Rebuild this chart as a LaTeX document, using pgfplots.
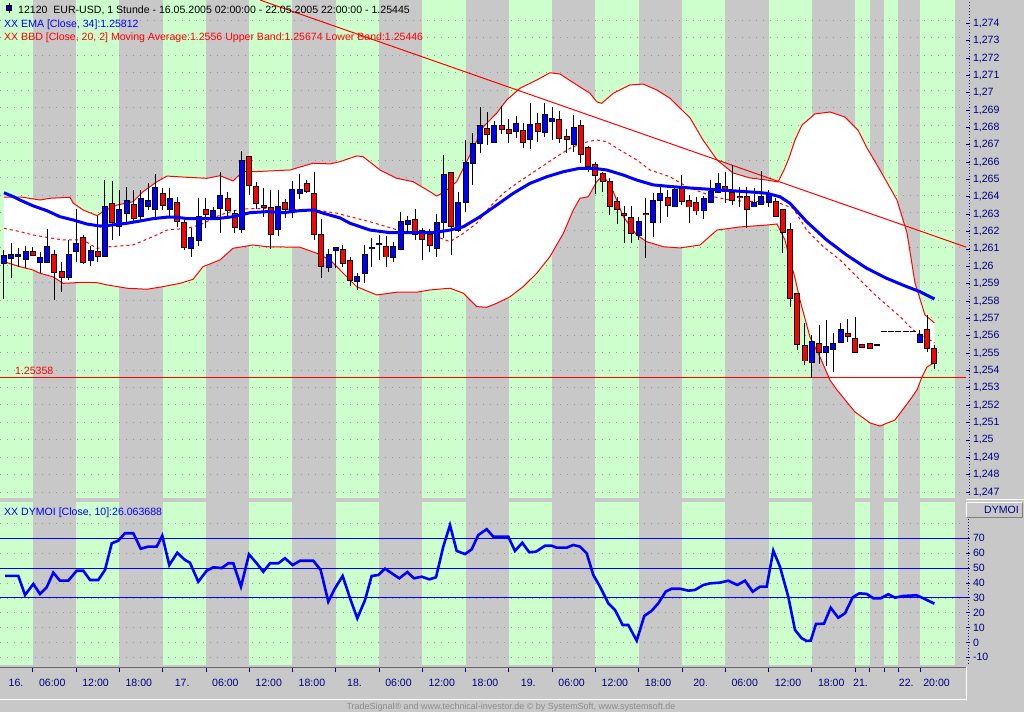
\documentclass[border=0pt]{standalone}
\usepackage{pgfplots}
\pgfplotsset{compat=1.18}
\usepackage{pgfplotstable}
\usepackage{fontspec}
\setmainfont{Liberation Sans}
\definecolor{bggray}{RGB}{200,200,200}
\definecolor{stripe}{RGB}{204,255,204}
\definecolor{navy}{RGB}{0,0,128}
\definecolor{griddot}{RGB}{150,150,150}
\definecolor{footgray}{RGB}{140,140,140}
\newcommand{\fs}{\fontsize{10.6}{12}\selectfont}
\newcommand{\greenstripes}[2]{%
\fill[stripe] (axis cs:-0.548,#1) rectangle (axis cs:4,#2);
\fill[stripe] (axis cs:10,#1) rectangle (axis cs:16,#2);
\fill[stripe] (axis cs:22,#1) rectangle (axis cs:28,#2);
\fill[stripe] (axis cs:34,#1) rectangle (axis cs:40,#2);
\fill[stripe] (axis cs:46,#1) rectangle (axis cs:52,#2);
\fill[stripe] (axis cs:58,#1) rectangle (axis cs:64,#2);
\fill[stripe] (axis cs:70,#1) rectangle (axis cs:76,#2);
\fill[stripe] (axis cs:82,#1) rectangle (axis cs:88,#2);
\fill[stripe] (axis cs:94,#1) rectangle (axis cs:100,#2);
\fill[stripe] (axis cs:106,#1) rectangle (axis cs:112,#2);
\fill[stripe] (axis cs:118,#1) rectangle (axis cs:120,#2);
\fill[stripe] (axis cs:122,#1) rectangle (axis cs:124,#2);
\fill[stripe] (axis cs:127,#1) rectangle (axis cs:131.85,#2);}

\pgfplotstableread{
i O H L C
0 1.26021 1.26094 1.25812 1.26060
1 1.26046 1.26133 1.25935 1.26065
2 1.26057 1.26104 1.25998 1.26064
3 1.26041 1.26117 1.25989 1.26081
4 1.26081 1.26113 1.26060 1.26067
5 1.26027 1.26084 1.25960 1.26046
6 1.26025 1.26213 1.26018 1.26110
7 1.26064 1.26094 1.25806 1.25967
8 1.25966 1.26027 1.25854 1.25940
9 1.25940 1.26152 1.25921 1.26064
10 1.26090 1.26330 1.26027 1.26127
11 1.26162 1.26181 1.26014 1.26027
12 1.26033 1.26117 1.26002 1.26088
13 1.26081 1.26290 1.26027 1.26061
14 1.26061 1.26497 1.26060 1.26344
15 1.26357 1.26492 1.26152 1.26257
16 1.26232 1.26440 1.26175 1.26325
17 1.26306 1.26459 1.26251 1.26376
18 1.26352 1.26440 1.26248 1.26277
19 1.26290 1.26440 1.26263 1.26386
20 1.26349 1.26478 1.26325 1.26376
21 1.26329 1.26532 1.26267 1.26450
22 1.26417 1.26450 1.26325 1.26352
23 1.26329 1.26450 1.26283 1.26386
24 1.26363 1.26401 1.26225 1.26263
25 1.26248 1.26277 1.26094 1.26113
26 1.26104 1.26219 1.26056 1.26162
27 1.26152 1.26394 1.26117 1.26286
28 1.26325 1.26392 1.26219 1.26300
29 1.26292 1.26340 1.26267 1.26319
30 1.26334 1.26545 1.26194 1.26405
31 1.26386 1.26430 1.26286 1.26325
32 1.26300 1.26325 1.26194 1.26225
33 1.26213 1.26666 1.26194 1.26605
34 1.26628 1.26636 1.26411 1.26467
35 1.26455 1.26488 1.26329 1.26363
36 1.26348 1.26450 1.26286 1.26340
37 1.26334 1.26440 1.26100 1.26186
38 1.26213 1.26440 1.26175 1.26340
39 1.26363 1.26388 1.26277 1.26329
40 1.26321 1.26492 1.26277 1.26438
41 1.26424 1.26532 1.26388 1.26438
42 1.26474 1.26497 1.26424 1.26436
43 1.26417 1.26545 1.26152 1.26185
44 1.26179 1.26273 1.25935 1.26002
45 1.25995 1.26102 1.25969 1.26064
46 1.26093 1.26113 1.25989 1.26104
47 1.26093 1.26123 1.25995 1.26018
48 1.26031 1.26056 1.25887 1.25921
49 1.25917 1.25963 1.25864 1.25937
50 1.25960 1.26123 1.25906 1.26064
51 1.26103 1.26162 1.25998 1.26104
52 1.26126 1.26181 1.26037 1.26128
53 1.26110 1.26177 1.25998 1.26056
54 1.26052 1.26142 1.26027 1.26110
55 1.26098 1.26311 1.26094 1.26257
56 1.26244 1.26292 1.26190 1.26260
57 1.26265 1.26329 1.26152 1.26186
58 1.26205 1.26219 1.26037 1.26158
59 1.26181 1.26215 1.26084 1.26123
60 1.26104 1.26302 1.26056 1.26248
61 1.26254 1.26641 1.26162 1.26526
62 1.26536 1.26545 1.26065 1.26232
63 1.26209 1.26430 1.26200 1.26363
64 1.26372 1.26728 1.26315 1.26594
65 1.26594 1.26770 1.26469 1.26705
66 1.26712 1.26920 1.26651 1.26808
67 1.26791 1.26891 1.26699 1.26762
68 1.26715 1.26837 1.26712 1.26808
69 1.26808 1.26924 1.26762 1.26789
70 1.26784 1.26847 1.26712 1.26766
71 1.26778 1.26866 1.26738 1.26820
72 1.26780 1.26824 1.26683 1.26715
73 1.26732 1.26939 1.26676 1.26813
74 1.26818 1.26882 1.26718 1.26778
75 1.26772 1.26943 1.26743 1.26870
76 1.26839 1.26920 1.26728 1.26847
77 1.26841 1.26897 1.26712 1.26738
78 1.26743 1.26789 1.26655 1.26732
79 1.26703 1.26872 1.26660 1.26795
80 1.26807 1.26843 1.26594 1.26645
81 1.26680 1.26693 1.26543 1.26578
82 1.26582 1.26603 1.26417 1.26525
83 1.26530 1.26545 1.26430 1.26490
84 1.26488 1.26507 1.26296 1.26348
85 1.26369 1.26398 1.26244 1.26329
86 1.26300 1.26349 1.26135 1.26296
87 1.26281 1.26348 1.26136 1.26190
88 1.26182 1.26286 1.26152 1.26254
89 1.26302 1.26392 1.26046 1.26300
90 1.26256 1.26423 1.26171 1.26376
91 1.26382 1.26466 1.26250 1.26415
92 1.26393 1.26440 1.26284 1.26351
93 1.26344 1.26459 1.26344 1.26440
94 1.26446 1.26526 1.26353 1.26378
95 1.26378 1.26411 1.26248 1.26344
96 1.26363 1.26401 1.26296 1.26321
97 1.26321 1.26405 1.26271 1.26386
98 1.26372 1.26497 1.26363 1.26427
99 1.26430 1.26536 1.26421 1.26473
100 1.26459 1.26545 1.26363 1.26436
101 1.26424 1.26584 1.26353 1.26382
102 1.26398 1.26459 1.26344 1.26397
103 1.26398 1.26459 1.26219 1.26330
104 1.26344 1.26450 1.26344 1.26363
105 1.26361 1.26549 1.26351 1.26400
106 1.26372 1.26440 1.26344 1.26411
107 1.26371 1.26392 1.26286 1.26288
108 1.26325 1.26328 1.26075 1.26196
109 1.26209 1.26251 1.25768 1.25816
110 1.25841 1.25841 1.25518 1.25551
111 1.25541 1.25672 1.25432 1.25457
112 1.25451 1.25605 1.25355 1.25563
113 1.25551 1.25662 1.25438 1.25508
114 1.25505 1.25691 1.25426 1.25534
115 1.25522 1.25614 1.25393 1.25553
116 1.25566 1.25672 1.25560 1.25633
117 1.25610 1.25695 1.25566 1.25599
118 1.25580 1.25710 1.25508 1.25508
119 1.25547 1.25547 1.25534 1.25534
120 1.25551 1.25551 1.25528 1.25528
121 1.25547 1.25547 1.25547 1.25547
122 1.25624 1.25624 1.25624 1.25624
123 1.25624 1.25624 1.25624 1.25624
124 1.25624 1.25624 1.25624 1.25624
125 1.25624 1.25624 1.25624 1.25624
126 1.25624 1.25624 1.25624 1.25624
127 1.25566 1.25633 1.25566 1.25605
128 1.25632 1.25720 1.25508 1.25528
129 1.25522 1.25547 1.25409 1.25445
}\candles

\pgfplotstableread{
x y
0 1.26424
1.30 1.26401
2.23 1.26382
4.07 1.26348
5.93 1.26321
7.77 1.26286
9.61 1.26267
11.47 1.26244
13.32 1.26232
14.70 1.26237
17.02 1.26248
18.86 1.26261
20.71 1.26275
22.56 1.26283
23.95 1.26283
25.34 1.26275
29.50 1.26275
31.80 1.26286
34.11 1.26309
36.43 1.26315
38.73 1.26309
41.04 1.26321
42.89 1.26325
44.27 1.26306
46.59 1.26279
47.98 1.26248
50.75 1.26209
53.52 1.26194
56.75 1.26194
59.53 1.26194
61.84 1.26209
63.69 1.26228
66.00 1.26286
68.31 1.26353
70.62 1.26421
72.93 1.26478
75.25 1.26516
77.55 1.26545
79.86 1.26565
81.71 1.26565
83.57 1.26555
85.87 1.26526
87.72 1.26497
90.03 1.26469
92.34 1.26460
95.57 1.26450
99.27 1.26440
102.97 1.26430
105.75 1.26421
107.59 1.26401
108.98 1.26363
111.29 1.26257
114.06 1.26152
116.84 1.26065
119.61 1.25989
122.38 1.25931
125.16 1.25883
127.00 1.25854
129 1.25812
}\emadata

\pgfplotstableread{
x y
0 1.26398
2.64 1.26398
5.00 1.26382
6.38 1.26392
9.16 1.26398
9.57 1.26365
10.96 1.26325
12.90 1.26292
13.73 1.26315
15.67 1.26353
17.89 1.26372
19.28 1.26430
21.22 1.26488
22.61 1.26520
25.38 1.26513
28.15 1.26507
29.95 1.26522
31.76 1.26492
33.14 1.26545
34.53 1.26545
39.66 1.26555
42.85 1.26594
45.20 1.26590
46.59 1.26603
48.90 1.26636
49.78 1.26632
52.14 1.26555
54.45 1.26507
56.71 1.26488
59.07 1.26430
60.00 1.26405
61.15 1.26430
62.77 1.26488
64.61 1.26641
66.46 1.26804
68.31 1.26882
69.70 1.26958
71.54 1.27026
73.86 1.27073
75.70 1.27115
77.09 1.27108
79.41 1.27045
81.25 1.26997
82.18 1.26948
82.87 1.26939
84.48 1.26997
86.79 1.27045
88.64 1.27050
90.50 1.27016
92.34 1.26968
95.12 1.26855
96.92 1.26728
98.86 1.26613
101.07 1.26538
103.43 1.26509
105.79 1.26497
107.31 1.26486
108.15 1.26555
108.84 1.26624
109.67 1.26728
110.64 1.26814
112.44 1.26878
114.52 1.26889
116.60 1.26860
118.40 1.26785
119.65 1.26682
121.45 1.26555
123.81 1.26382
125.20 1.26192
126.31 1.25904
127.69 1.25720
129 1.25674
}\bbupper

\pgfplotstableread{
x y
0 1.26027
2.23 1.25998
4.03 1.25979
5.00 1.25960
6.80 1.25940
8.19 1.25902
10.96 1.25908
12.90 1.25906
14.29 1.25893
17.06 1.25874
19.83 1.25868
22.05 1.25883
24.41 1.25902
26.21 1.25925
27.60 1.25998
29.95 1.26037
31.76 1.26104
34.53 1.26123
36.47 1.26113
41.04 1.26110
43.40 1.26075
45.20 1.26037
47.05 1.25960
48.90 1.25883
51.68 1.25835
54.45 1.25851
57.22 1.25851
59.07 1.25864
61.84 1.25874
63.69 1.25845
65.54 1.25768
66.93 1.25764
68.31 1.25787
70.16 1.25825
72.00 1.25883
73.86 1.25960
75.70 1.26056
77.55 1.26190
78.94 1.26325
79.86 1.26392
81.01 1.26401
82.18 1.26488
83.10 1.26526
84.48 1.26430
85.87 1.26286
87.72 1.26181
89.11 1.26142
91.41 1.26113
93.73 1.26106
96.50 1.26123
98.86 1.26209
102.05 1.26227
105.79 1.26238
107.17 1.26244
108.28 1.26152
108.98 1.26037
109.67 1.25933
110.36 1.25806
111.75 1.25593
113.14 1.25478
114.52 1.25345
115.49 1.25288
117.99 1.25161
120.07 1.25098
121.45 1.25080
123.53 1.25115
125.61 1.25230
126.58 1.25288
127.28 1.25363
127.97 1.25420
129 1.25446
}\bblower

\pgfplotstableread{
x y
0 1.26219
2.23 1.26200
4.03 1.26181
5.97 1.26167
8.19 1.26152
10.96 1.26152
12.90 1.26104
14.70 1.26113
17.89 1.26123
20.66 1.26171
22.61 1.26209
25.38 1.26219
27.18 1.26238
29.95 1.26296
32.73 1.26330
36.47 1.26334
40.07 1.26329
43.82 1.26321
46.17 1.26306
47.98 1.26286
50.75 1.26257
53.06 1.26228
55.37 1.26200
57.68 1.26190
60.00 1.26171
61.84 1.26142
63.69 1.26190
65.54 1.26248
67.39 1.26344
69.23 1.26421
71.09 1.26478
73.86 1.26555
76.63 1.26632
78.48 1.26680
80.32 1.26712
82.18 1.26728
83.57 1.26718
85.41 1.26670
87.72 1.26613
89.57 1.26555
92.34 1.26516
94.66 1.26459
98.35 1.26401
101.12 1.26378
104.82 1.26372
107.59 1.26363
109.43 1.26334
111.29 1.26209
113.59 1.26113
115.91 1.26037
120.53 1.25845
124.23 1.25710
126.07 1.25633
129 1.25560
}\bbmid

\pgfplotstableread{
x y
0.15 44.7
1.99 44.7
2.92 31.9
4.07 39.3
5.00 32.6
5.93 37.1
6.84 46.9
7.77 41.5
8.92 41.5
10.09 48.2
11.00 48.2
11.93 42.0
13.08 42.0
14.01 48.7
14.94 66.6
15.85 68.4
16.78 73.4
17.93 73.4
18.96 63.0
20.01 64.4
21.18 64.4
21.95 71.7
22.92 52.0
24.03 60.3
25.10 55.4
25.79 53.6
26.94 40.8
28.11 48.2
29.02 50.5
30.19 50.0
31.10 53.2
31.80 53.2
32.86 37.5
33.97 59.2
35.04 53.2
35.96 47.5
36.88 53.2
38.04 53.2
38.96 56.6
40.03 52.0
41.04 54.9
42.89 54.9
43.91 48.7
44.97 27.4
45.90 36.4
46.96 44.7
47.98 29.7
48.99 16.2
50.06 28.5
50.98 44.7
51.90 45.3
52.83 49.6
53.76 46.5
54.81 43.1
55.92 47.3
56.85 43.1
57.92 44.2
58.97 42.4
59.90 43.8
60.91 64.4
61.84 78.9
62.77 61.5
63.92 59.4
64.85 62.6
65.76 72.2
66.93 76.1
67.84 71.1
69.92 71.1
70.85 61.5
71.86 67.0
72.83 60.6
73.76 61.0
75.01 65.0
75.94 65.0
76.63 63.7
78.02 63.7
78.94 65.5
79.86 64.4
80.79 59.9
81.71 45.3
82.64 37.5
83.79 26.3
84.72 21.8
85.78 11.7
86.56 11.7
87.72 1.2
88.78 17.8
89.80 21.3
90.72 26.3
91.74 34.1
92.57 36.1
93.73 36.1
94.88 34.8
95.81 35.3
96.96 38.6
97.89 39.7
99.27 40.2
100.42 41.5
101.67 38.6
102.74 41.5
103.81 34.1
104.82 37.5
105.75 37.5
106.66 61.7
107.59 50.9
108.74 30.7
109.67 8.4
110.60 2.8
111.29 1.0
111.85 1.2
112.58 12.4
113.69 12.6
114.62 23.3
115.67 16.6
116.60 19.6
117.67 30.3
118.59 33.0
119.61 32.6
120.53 29.7
121.55 29.7
122.61 32.4
123.53 30.1
124.69 31.2
126.53 31.7
127.45 29.7
129 26.06
}\dymoidata

% closed outline of the band: upper band forward, lower band backward
\pgfplotstablesort[sort key=x, sort cmp=float >]{\lowerrev}{\bblower}
\pgfplotstablevertcat{\bandpoly}{\bbupper}
\pgfplotstablevertcat{\bandpoly}{\lowerrev}

\begin{document}
\begin{tikzpicture}
\fill[bggray] (0bp,0bp) rectangle (1024bp,-712bp);

%% ---------------- main price panel ----------------
\begin{axis}[
  at={(0bp,0bp)}, anchor=north west,
  scale only axis, width=966bp, height=498bp,
  xmin=-0.548, xmax=133.38, ymin=1.246655, ymax=1.275342,
  axis line style={draw=none},
  xtick=\empty,
  ytick={1.247,1.248,1.249,1.25,1.251,1.252,1.253,1.254,1.255,1.256,1.257,1.258,1.259,1.26,1.261,1.262,1.263,1.264,1.265,1.266,1.267,1.268,1.269,1.27,1.271,1.272,1.273,1.274},
  ytick pos=right, yticklabel pos=right,
  tick align=outside, major tick length=3.5bp,
  tick style={navy, line width=0.8bp},
  scaled y ticks=false,
  yticklabel style={font=\fs, text=navy,
    /pgf/number format/fixed, /pgf/number format/precision=3,
    /pgf/number format/use comma, /pgf/number format/assume math mode=true},
]
\greenstripes{1.246655}{1.275342}
\pgfplotsinvokeforeach{1.247,1.248,...,1.2745}{
  \draw[griddot, dash pattern=on 1bp off 6bp] (axis cs:-0.548,#1) -- (axis cs:133.38,#1);}
\addplot[fill=white, draw=none, forget plot] table[x=x,y=y] {\bandpoly};
\addplot[red, line width=1bp] table[x=x,y=y] {\bbupper};
\addplot[red, line width=1bp] table[x=x,y=y] {\bblower};
\addplot[red, line width=1bp, dash pattern=on 3bp off 3bp] table[x=x,y=y] {\bbmid};
% horizontal level line and trendline
\addplot[red, line width=1bp] coordinates {(-0.548,1.25358) (133.38,1.25358)};
\node[anchor=base west, inner sep=0pt, text=red, font=\fs] at (axis cs:1.53,1.25377) {1.25358};
\addplot[red, line width=1bp] coordinates {(35.50,1.27534) (133.38,1.26111)};
% candles: wicks
\addplot[draw=none, mark=none,
  error bars/.cd, y dir=plus, y explicit, error mark=none,
  error bar style={draw=black, line width=1bp}]
  table[x=i, y=L, y error plus expr={\thisrow{H}-\thisrow{L}}] {\candles};
% body outlines
\addplot[draw=none, mark=none,
  error bars/.cd, y dir=plus, y explicit, error mark=none,
  error bar style={draw=black, line width=6bp}]
  table[x=i, y expr={min(\thisrow{O},\thisrow{C})-0.00005},
        y error plus expr={abs(\thisrow{C}-\thisrow{O})+0.0001}] {\candles};
% rising bodies
\addplot[draw=none, mark=none,
  error bars/.cd, y dir=plus, y explicit, error mark=none,
  error bar style={draw=blue, line width=4bp}]
  table[x=i, y=O, y error plus expr={max(\thisrow{C}-\thisrow{O},0)}] {\candles};
% falling bodies
\addplot[draw=none, mark=none,
  error bars/.cd, y dir=plus, y explicit, error mark=none,
  error bar style={draw=red, line width=4bp}]
  table[x=i, y=C, y error plus expr={max(\thisrow{O}-\thisrow{C},0)}] {\candles};
% EMA
\addplot[blue, line width=3bp] table[x=x,y=y] {\emadata};
\end{axis}

%% ---------------- DYMOI panel ----------------
\begin{axis}[
  at={(0bp,-502bp)}, anchor=north west,
  scale only axis, width=966bp, height=163bp,
  xmin=-0.548, xmax=133.38, ymin=-15.18, ymax=94.4,
  axis line style={draw=none},
  xtick=\empty,
  ytick={-10,0,10,20,30,40,50,60,70},
  ytick pos=right, yticklabel pos=right,
  tick align=outside, major tick length=3.5bp,
  tick style={navy, line width=0.8bp},
  yticklabel style={font=\fs, text=navy, /pgf/number format/assume math mode=true},
]
\greenstripes{-15.18}{94.4}
\pgfplotsinvokeforeach{-10,0,...,80}{
  \draw[griddot, dash pattern=on 1bp off 6bp] (axis cs:-0.548,#1) -- (axis cs:133.38,#1);}
\addplot[blue, line width=1bp] coordinates {(-0.548,70) (133.38,70)};
\addplot[blue, line width=1bp] coordinates {(-0.548,50) (133.38,50)};
\addplot[blue, line width=1bp] coordinates {(-0.548,30) (133.38,30)};
\addplot[blue, line width=2.6bp] table[x=x,y=y] {\dymoidata};
\end{axis}

%% ---------------- time axis strip ----------------
\begin{axis}[
  at={(0bp,-668bp)}, anchor=north west,
  scale only axis, width=966bp, height=31bp,
  xmin=-0.548, xmax=133.38, ymin=0, ymax=1,
  axis line style={draw=none},
  ytick=\empty,
  xtick={1.67,6.7,12.7,18.7,24.7,30.7,36.7,42.7,48.6,54.7,60.7,66.7,72.7,78.7,84.7,90.7,96.6,102.7,108.7,114.7,118.75,125.1,129.3},
  xticklabels={16.,06:00,12:00,18:00,17.,06:00,12:00,18:00,18.,06:00,12:00,18:00,19.,06:00,12:00,18:00,20.,06:00,12:00,18:00,21.,22.,20:00},
  xtick pos=right, xticklabel pos=right,
  tick align=inside, major tick length=0bp,
  xticklabel style={font=\fs, text=navy, anchor=center, yshift=-15bp},
  extra x ticks={4,10,16,22,28,34,40,46,52,58,64,70,76,82,88,94,100,106,112,118,120,122,124,127},
  extra x tick labels={},
  extra x tick style={major tick length=4bp, tick style={navy, line width=0.8bp}},
]
\addplot[draw=none, forget plot] coordinates {(0,0.5)};
\end{axis}

%% frames and decorations
\draw[navy, line width=0.8bp, dash pattern=on 1bp off 2bp] (969bp,-2bp) -- (969bp,-497bp);
\draw[navy, line width=0.8bp, dash pattern=on 1bp off 2bp] (968bp,-519bp) -- (968bp,-664bp);
\draw[white, line width=1bp] (966bp,-499.5bp) -- (1024bp,-499.5bp);
\draw[white, line width=1bp] (966.5bp,-517bp) -- (966.5bp,-502.5bp) -- (1022bp,-502.5bp);
\draw[gray, line width=1bp] (1022bp,-502.5bp) -- (1022bp,-517bp) -- (966.5bp,-517bp);
\node[anchor=base east, inner sep=0pt, text=navy, font=\fs] at (1019bp,-513.5bp) {DYMOI};
\draw[gray!80!black, line width=1bp] (0bp,-667.5bp) -- (966bp,-667.5bp);
\draw[white, line width=1bp] (0bp,-699.5bp) -- (967bp,-699.5bp);
\draw[white, line width=1bp] (966.5bp,-667bp) -- (966.5bp,-700bp);

%% header texts
\draw[black, line width=0.8bp] (9bp,-3bp) -- (9bp,-13bp);
\filldraw[fill=blue!75!black, draw=black, line width=0.8bp] (6.5bp,-5bp) rectangle (11.5bp,-10.5bp);
\node[anchor=base west, inner sep=0pt, font=\fs] at (18bp,-13.3bp) {12120\ \ EUR-USD, 1 Stunde - 16.05.2005 02:00:00 - 22.05.2005 22:00:00 - 1.25445};
\node[anchor=base west, inner sep=0pt, font=\fs, text=blue] at (4bp,-27.3bp) {XX EMA [Close, 34]:1.25812};
\node[anchor=base west, inner sep=0pt, font=\fs, text=red] at (4bp,-40.8bp) {XX BBD [Close, 20, 2] Moving Average:1.2556 Upper Band:1.25674 Lower Band:1.25446};
\node[anchor=base west, inner sep=0pt, font=\fs, text=blue] at (4bp,-515bp) {XX DYMOI [Close, 10]:26.063688};
\node[anchor=base, inner sep=0pt, text=footgray, font=\fontsize{9}{10}\selectfont] at (511bp,-709bp) {TradeSignal® and www.technical-investor.de © by SystemSoft, www.systemsoft.de};
\pgfresetboundingbox
\path[use as bounding box] (0bp,0bp) rectangle (1024bp,-712bp);
\end{tikzpicture}
\end{document}
